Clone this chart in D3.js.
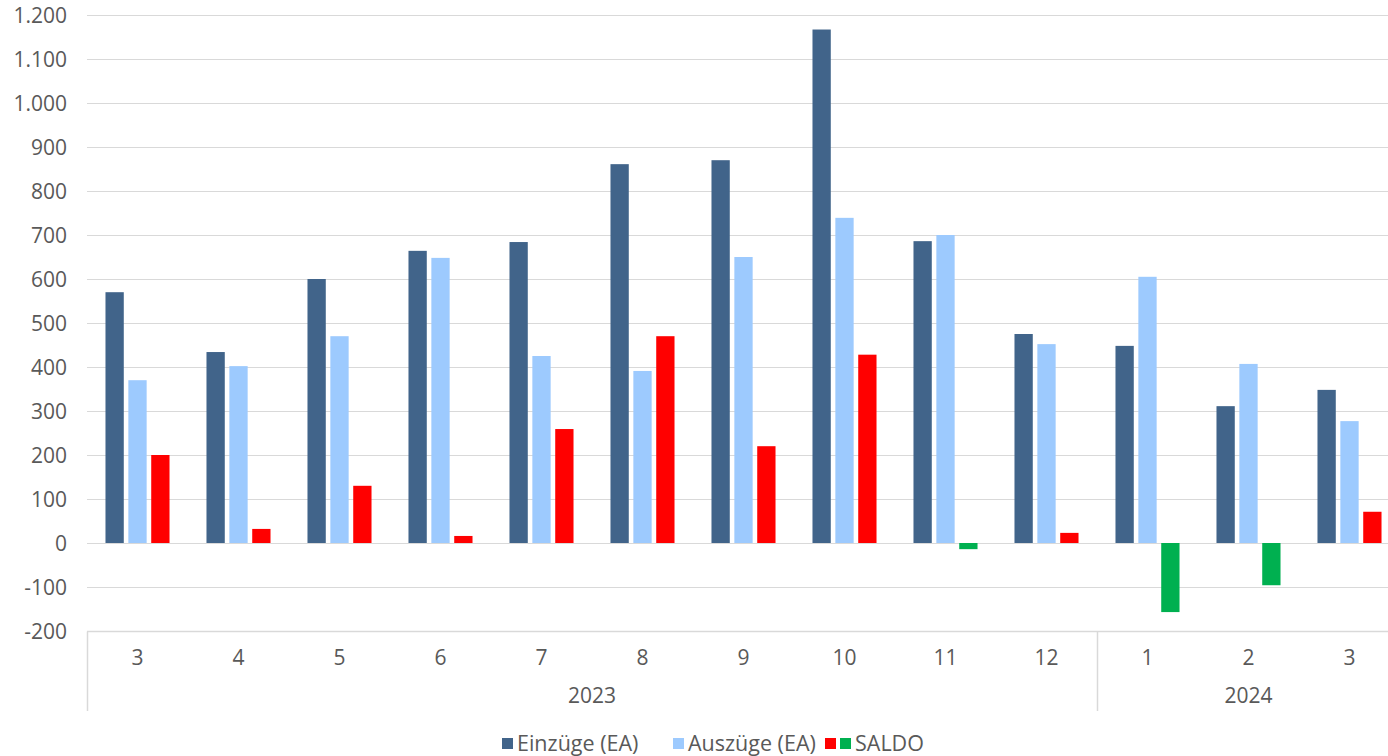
<!DOCTYPE html>
<html>
<head>
<meta charset="utf-8">
<script src="https://cdn.jsdelivr.net/npm/d3@7"></script>
<style>
  body { margin: 0; background: #fff; overflow: hidden; }
  svg text { font-family: "Open Sans", sans-serif; fill: #595959; }
</style>
</head>
<body>
<div id="chart"></div>
<script>
// data
var months = ["3", "4", "5", "6", "7", "8", "9", "10", "11", "12", "1", "2", "3"];
var years = [{ label: "2023", from: 0, to: 9 }, { label: "2024", from: 10, to: 12 }];
var einzuege = [570, 434, 600, 664, 684, 861, 870, 1167, 686, 475, 448, 311, 348];
var auszuege = [370, 402, 470, 648, 425, 391, 650, 739, 700, 452, 605, 407, 277];
var saldo = [200, 32, 130, 16, 259, 470, 220, 428, -14, 23, -157, -96, 71];
var yTicks = [-200, -100, 0, 100, 200, 300, 400, 500, 600, 700, 800, 900, 1000, 1100, 1200];

var W = 1388, H = 756;
// the plot runs a little past the right edge of the picture (clipped, as in the source)
var plotLeft = 87, plotRight = 1400, plotTop = 15, plotBottom = 631;

var series = [
  { key: "ein", name: "Einzüge (EA)", values: einzuege, color: "#41648A", lx: 502 },
  { key: "aus", name: "Auszüge (EA)", values: auszuege, color: "#9DCAFE", lx: 673 },
  { key: "sal", name: "SALDO", values: saldo, color: "#FF0000", neg: "#00B050", lx: 825 }
];

var svg = d3.select("#chart").append("svg").attr("width", W).attr("height", H);

var x0 = d3.scaleBand().domain(d3.range(months.length))
  .range([plotLeft, plotRight]).padding(0);
var x1 = d3.scaleBand().domain(series.map(function(s) { return s.key; }))
  .range([x0.bandwidth() * 0.183, x0.bandwidth() * 0.817]).paddingInner(0.2);
var y = d3.scaleLinear().domain([-200, 1200]).range([plotBottom, plotTop]);

// gridlines
svg.append("g").selectAll("line")
  .data(yTicks.slice(1))
  .enter().append("line")
  .attr("x1", plotLeft).attr("x2", W)
  .attr("y1", function(d) { return Math.round(y(d)) + 0.5; })
  .attr("y2", function(d) { return Math.round(y(d)) + 0.5; })
  .attr("stroke", "#d9d9d9").attr("stroke-width", 1.2);

// y labels
svg.append("g").selectAll("text")
  .data(yTicks)
  .enter().append("text")
  .attr("x", 67).attr("y", function(d) { return y(d); })
  .attr("dy", "0.36em")
  .attr("text-anchor", "end")
  .style("font-size", "21px")
  .text(function(d) { return (d < 0 ? "-" : "") + d3.format(",")(Math.abs(d)).replace(/,/g, "."); });

// bars
series.forEach(function(s) {
  svg.append("g").selectAll("rect")
    .data(s.values)
    .enter().append("rect")
    .attr("x", function(d, i) { return x0(i) + x1(s.key); })
    .attr("width", x1.bandwidth())
    .attr("y", function(d) { return y(Math.max(0, d)); })
    .attr("height", function(d) { return Math.abs(y(d) - y(0)); })
    .attr("fill", function(d) { return (d < 0 && s.neg) ? s.neg : s.color; });
});

// category axis
var axisY = Math.round(y(-200)) + 0.5;
svg.append("line")
  .attr("x1", plotLeft).attr("x2", W)
  .attr("y1", axisY).attr("y2", axisY)
  .attr("stroke", "#d9d9d9").attr("stroke-width", 1.5);

svg.append("g").selectAll("text")
  .data(months)
  .enter().append("text")
  .attr("x", function(d, i) { return x0(i) + x0.bandwidth() / 2; })
  .attr("y", 657)
  .attr("dy", "0.36em")
  .attr("text-anchor", "middle")
  .style("font-size", "21px")
  .text(function(d) { return d; });

// year separators and labels
var seps = [0, 10];
svg.append("g").selectAll("line")
  .data(seps)
  .enter().append("line")
  .attr("x1", function(d) { return Math.round(x0(d)) + 0.5; })
  .attr("x2", function(d) { return Math.round(x0(d)) + 0.5; })
  .attr("y1", axisY).attr("y2", 711)
  .attr("stroke", "#d9d9d9").attr("stroke-width", 1.5);

svg.append("g").selectAll("text")
  .data(years)
  .enter().append("text")
  .attr("x", function(d) { return (x0(d.from) + x0(d.to) + x0.bandwidth()) / 2; })
  .attr("y", 695)
  .attr("dy", "0.36em")
  .attr("text-anchor", "middle")
  .style("font-size", "21px")
  .text(function(d) { return d.label; });

// legend
var leg = svg.append("g");
var ly = 743;
series.forEach(function(s) {
  var lx = s.lx;
  var sw = s.neg ? [s.color, s.neg] : [s.color];
  sw.forEach(function(c) {
    leg.append("rect").attr("x", lx).attr("y", ly - 5).attr("width", 11).attr("height", 11).attr("fill", c);
    lx += 15;
  });
  leg.append("text").attr("x", lx).attr("y", ly).attr("dy", "0.36em")
    .style("font-size", "21.5px").text(s.name);
});
</script>
</body>
</html>
